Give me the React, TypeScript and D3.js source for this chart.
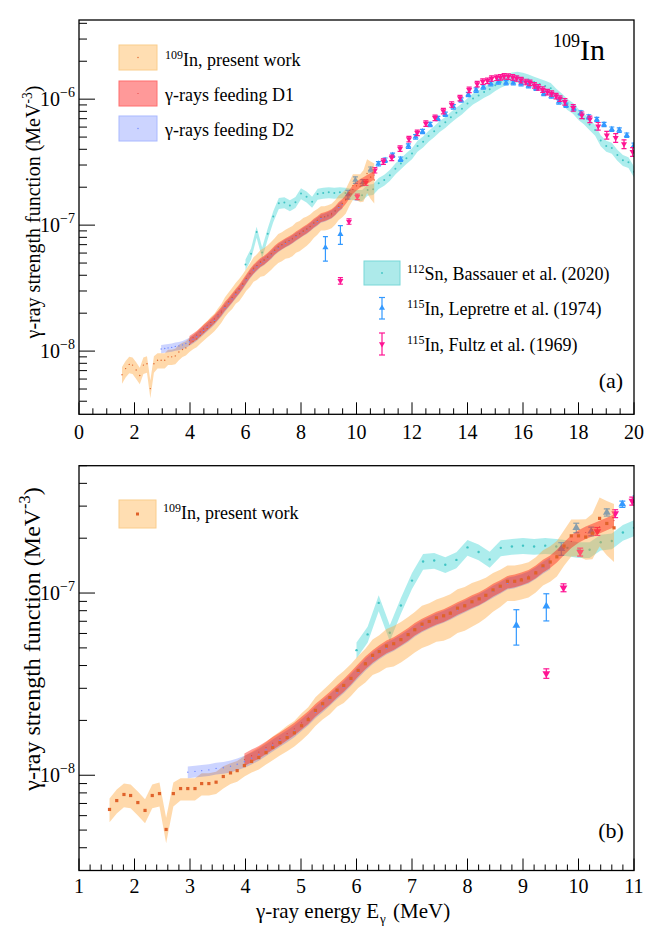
import React from "react";
import * as d3 from "d3";

const W = 657;
const H = 926;
const FONT = "'Liberation Serif', 'DejaVu Serif', serif";

// ---------------- DATA ----------------
// 109In, present work (values x1e-9 MeV^-3)
const pwEnergy = [1.55, 1.68, 1.81, 1.93, 2.06, 2.19, 2.32, 2.45, 2.57, 2.70, 2.83, 2.96, 3.09, 3.21, 3.34, 3.47, 3.60, 3.73, 3.85, 3.98, 4.11, 4.24, 4.37, 4.49, 4.62, 4.75, 4.88, 5.01, 5.13, 5.26, 5.39, 5.52, 5.65, 5.77, 5.90, 6.03, 6.16, 6.29, 6.41, 6.54, 6.67, 6.80, 6.93, 7.05, 7.18, 7.31, 7.44, 7.57, 7.69, 7.82, 7.95, 8.08, 8.21, 8.33, 8.46, 8.59, 8.72, 8.85, 8.97, 9.10, 9.23, 9.36, 9.49, 9.61, 9.74, 9.87, 10.00, 10.13, 10.25, 10.38, 10.51, 10.64];
const pwValue = [6.49, 7.26, 7.84, 7.74, 7.08, 6.41, 7.74, 7.93, 5.04, 7.93, 8.45, 8.45, 8.45, 9.0, 9.0, 9.16, 9.84, 10.3, 10.6, 11.3, 11.9, 12.5, 13.3, 14.2, 15.1, 16.1, 17.1, 18.7, 20.2, 22.7, 24.7, 26.7, 29.3, 31.1, 34.0, 37.6, 40.9, 45.5, 47.7, 51.2, 52.7, 55.5, 59.1, 62.9, 67.5, 69.8, 73.1, 75.0, 77.5, 82.6, 85.1, 89.5, 92.9, 97.2, 104, 109, 116, 116, 118, 121, 129, 141, 148, 158, 181, 206, 206, 203, 213, 257, 241, 228];
const pwRelErr = [0.15, 0.15, 0.15, 0.15, 0.15, 0.15, 0.15, 0.15, 0.16, 0.15, 0.14, 0.14, 0.14, 0.14, 0.14, 0.14, 0.14, 0.13, 0.13, 0.13, 0.13, 0.14, 0.14, 0.15, 0.15, 0.16, 0.16, 0.17, 0.17, 0.18, 0.18, 0.19, 0.19, 0.2, 0.2, 0.2, 0.21, 0.22, 0.23, 0.24, 0.25, 0.25, 0.25, 0.25, 0.26, 0.26, 0.26, 0.27, 0.27, 0.27, 0.27, 0.27, 0.26, 0.25, 0.24, 0.23, 0.22, 0.22, 0.22, 0.22, 0.22, 0.22, 0.22, 0.22, 0.22, 0.23, 0.23, 0.25, 0.28, 0.3, 0.33, 0.35];

// gamma rays feeding D1 (x1e-9)
const d1Energy = [3.98, 4.11, 4.24, 4.37, 4.49, 4.62, 4.75, 4.88, 5.01, 5.13, 5.26, 5.39, 5.52, 5.65, 5.77, 5.90, 6.03, 6.16, 6.29, 6.41, 6.54, 6.67, 6.80, 6.93, 7.05, 7.18, 7.31, 7.44, 7.57, 7.69, 7.82, 7.95, 8.08, 8.21, 8.33, 8.46, 8.59, 8.72, 8.85, 8.97, 9.10, 9.23, 9.36, 9.49, 9.61, 9.74, 9.87, 10.00, 10.13, 10.25, 10.38, 10.51, 10.64];
const d1Value = [12.2, 12.8, 13.4, 14.2, 15.0, 15.9, 16.9, 18.0, 19.4, 20.8, 22.8, 24.6, 26.6, 29.0, 31.2, 34.2, 37.8, 41.5, 45.0, 47.8, 50.8, 53.0, 56.0, 59.5, 63.5, 67.0, 70.0, 73.0, 75.5, 78.5, 82.5, 86.0, 90.0, 93.5, 98.0, 104, 109, 115, 117, 120, 124, 131, 141, 149, 160, 176, 192, 205, 215, 222, 231, 240, 250];
const d1RelErr = 0.08;

// gamma rays feeding D2 (x1e-9)
const d2Energy = [2.96, 3.09, 3.21, 3.34, 3.47, 3.60, 3.73, 3.85, 3.98, 4.11, 4.24, 4.37, 4.49, 4.62, 4.75, 4.88, 5.01, 5.13, 5.26, 5.39, 5.52, 5.65, 5.77, 5.90, 6.03, 6.16, 6.29, 6.41, 6.54, 6.67, 6.80, 6.93, 7.05, 7.18, 7.31, 7.44, 7.57, 7.69, 7.82, 7.95, 8.08, 8.21, 8.33, 8.46, 8.59, 8.72, 8.85, 8.97, 9.10, 9.23, 9.36, 9.49];
const d2Value = [10.4, 10.5, 10.6, 10.7, 10.9, 11.0, 11.2, 11.5, 11.9, 12.4, 13.0, 13.8, 14.6, 15.5, 16.4, 17.5, 18.9, 20.3, 22.2, 24.0, 26.0, 28.3, 30.5, 33.4, 36.8, 40.5, 44.0, 46.8, 49.8, 52.0, 55.0, 58.3, 62.2, 65.8, 68.8, 71.8, 74.3, 77.2, 81.0, 84.5, 88.5, 92.0, 96.5, 102, 107, 113, 115, 118, 122, 129, 138, 146];
const d2RelErr = 0.075;

// 112Sn, Bassauer et al. (2020) (x1e-7)
const bsEnergy = [6.0, 6.2, 6.4, 6.6, 6.8, 7.0, 7.2, 7.4, 7.6, 7.8, 8.0, 8.2, 8.4, 8.6, 8.8, 9.0, 9.2, 9.4, 9.6, 9.8, 10.0, 10.2, 10.4, 10.6, 10.8, 11.0, 11.2, 11.4, 11.6, 11.8, 12.0, 12.2, 12.4, 12.6, 12.8, 13.0, 13.2, 13.4, 13.6, 13.8, 14.0, 14.2, 14.4, 14.6, 14.8, 15.0, 15.2, 15.4, 15.6, 15.8, 16.0, 16.2, 16.4, 16.6, 16.8, 17.0, 17.2, 17.4, 17.6, 17.8, 18.0, 18.2, 18.4, 18.6, 18.8, 19.0, 19.2, 19.4, 19.6, 19.8, 20.0];
const bsValue = [0.486, 0.593, 0.883, 0.605, 0.855, 1.17, 1.49, 1.51, 1.43, 1.52, 1.78, 1.68, 1.53, 1.77, 1.80, 1.82, 1.80, 1.82, 1.80, 1.77, 1.73, 1.73, 1.90, 1.93, 2.15, 2.28, 2.49, 2.80, 3.09, 3.40, 3.71, 4.25, 4.60, 5.10, 5.55, 6.10, 6.55, 7.20, 7.80, 8.40, 9.25, 10.1, 10.7, 11.4, 12.0, 12.9, 13.7, 14.3, 14.8, 15.0, 14.7, 14.3, 13.7, 13.2, 12.7, 12.2, 11.0, 10.1, 9.10, 8.50, 7.60, 7.00, 6.30, 5.68, 4.70, 4.25, 4.10, 3.60, 3.28, 3.15, 2.65];
const bsRelErr = 0.1;

// 115In, Lepretre et al. (1974) (x1e-7)
const lpEnergy = [8.88, 9.42, 9.69, 9.96, 10.23, 10.51, 10.79, 11.03, 11.30, 11.59, 11.87, 12.13, 12.38, 12.65, 12.93, 13.20, 13.49, 13.77, 14.03, 14.31, 14.57, 14.84, 15.11, 15.39, 15.65, 15.93, 16.20, 16.47, 16.75, 17.02, 17.29, 17.55, 17.83, 18.09, 18.37, 18.66, 18.92, 19.20, 19.47, 19.74, 20.00];
const lpValue = [0.664, 0.847, 1.75, 2.28, 2.18, 2.77, 3.07, 3.28, 3.59, 3.34, 4.24, 5.02, 5.54, 6.30, 7.03, 7.60, 8.69, 9.85, 10.9, 11.8, 12.5, 13.3, 13.7, 13.5, 13.5, 13.3, 12.8, 12.2, 11.1, 10.6, 9.53, 8.96, 8.43, 7.78, 7.23, 6.90, 6.30, 5.78, 5.68, 5.18, 4.31];
const lpRelErr = [0.22, 0.17, 0.08, 0.06, 0.055, 0.045, 0.04, 0.04, 0.04, 0.04, 0.04, 0.04, 0.04, 0.04, 0.04, 0.04, 0.04, 0.04, 0.04, 0.04, 0.04, 0.04, 0.04, 0.04, 0.04, 0.04, 0.04, 0.04, 0.04, 0.04, 0.04, 0.04, 0.04, 0.04, 0.04, 0.04, 0.04, 0.04, 0.04, 0.04, 0.04];

// 115In, Fultz et al. (1969) (x1e-7)
const fzEnergy = [9.42, 9.73, 10.03, 10.34, 10.66, 10.97, 11.27, 11.57, 11.89, 12.19, 12.50, 12.83, 13.13, 13.43, 13.73, 14.06, 14.35, 14.55, 14.72, 14.87, 15.05, 15.19, 15.32, 15.47, 15.63, 15.77, 15.93, 16.10, 16.25, 16.41, 16.55, 16.71, 16.88, 17.03, 17.19, 17.33, 17.51, 17.81, 18.12, 18.41, 18.71, 19.02, 19.34, 19.64, 19.95];
const fzValue = [0.362, 1.07, 1.68, 2.18, 2.73, 3.20, 3.42, 4.06, 4.82, 5.41, 6.41, 7.11, 8.04, 9.08, 10.2, 11.85, 13.2, 13.8, 14.0, 14.6, 14.8, 14.9, 15.2, 15.1, 14.9, 14.6, 14.2, 13.7, 13.5, 12.9, 12.4, 11.9, 11.4, 11.1, 10.6, 10.1, 9.53, 8.53, 7.46, 6.93, 6.10, 5.18, 4.93, 4.40, 3.82];
const fzRelErr = [0.06, 0.05, 0.05, 0.05, 0.05, 0.05, 0.05, 0.05, 0.05, 0.05, 0.05, 0.05, 0.05, 0.05, 0.05, 0.05, 0.05, 0.05, 0.05, 0.05, 0.05, 0.05, 0.05, 0.05, 0.05, 0.05, 0.05, 0.05, 0.05, 0.05, 0.05, 0.05, 0.05, 0.05, 0.05, 0.05, 0.06, 0.06, 0.06, 0.06, 0.07, 0.07, 0.08, 0.08, 0.08];

// ---------------- STYLE ----------------
const C_PW_FILL = "rgba(255,165,55,0.42)";
const C_PW_MARK = "#e0622a";
const C_D1_FILL = "rgba(255,20,10,0.42)";
const C_D1_MARK = "#e04040";
const C_D2_FILL = "rgba(0,40,255,0.2)";
const C_D2_MARK = "#6f86ff";
const C_BS_FILL = "rgba(0,200,200,0.32)";
const C_BS_MARK = "#40c4c4";
const C_LP = "#3399ff";
const C_FZ = "#ff1493";

type Row = { e: number; v: number; lo: number; hi: number };
function band(E: number[], V: number[], unit: number, err: number | number[]): Row[] {
  return E.map((e, i) => {
    const v = V[i] * unit;
    const r = Array.isArray(err) ? err[i] : err;
    return { e, v, lo: v * (1 - r), hi: v * (1 + r) };
  });
}

const pwRows = band(pwEnergy, pwValue, 1e-9, pwRelErr);
const d1Rows = band(d1Energy, d1Value, 1e-9, d1RelErr);
const d2Rows = band(d2Energy, d2Value, 1e-9, d2RelErr);
const bsRows = band(bsEnergy, bsValue, 1e-7, bsRelErr);
const lpRows = band(lpEnergy, lpValue, 1e-7, lpRelErr);
const fzRows = band(fzEnergy, fzValue, 1e-7, fzRelErr);

type PanelProps = {
  id: string;
  left: number; right: number; top: number; bottom: number;
  xDom: [number, number]; yDom: [number, number];
  xMajor: number; xMinor: number;
  big: boolean;
  yTitleSize: number; yTitleCenter: number;
  xLabelOffset: number;
};

function Panel(p: PanelProps) {
  const xs = d3.scaleLinear().domain(p.xDom).range([p.left, p.right]);
  const ys = d3.scaleLog().domain(p.yDom).range([p.bottom, p.top]);
  const area = d3.area<Row>().x((d) => xs(d.e)).y0((d) => ys(d.lo)).y1((d) => ys(d.hi));
  const bsArea = area(bsRows) || "";
  const pwArea = area(pwRows) || "";
  const d1Area = area(d1Rows) || "";
  const d2Area = area(d2Rows) || "";
  const triSize = p.big ? 26 : 16;
  const triUp = d3.symbol(d3.symbolTriangle, triSize)() || "";
  const cap = p.big ? 3 : 2.5;

  const xTicks: { v: number; major: boolean }[] = [];
  const nMinor = Math.round((p.xDom[1] - p.xDom[0]) / p.xMinor);
  for (let i = 0; i <= nMinor; i++) {
    const v = p.xDom[0] + i * p.xMinor;
    const r = (v - p.xDom[0]) / p.xMajor;
    xTicks.push({ v, major: Math.abs(r - Math.round(r)) < 1e-6 });
  }
  const yTicks: { v: number; major: boolean; k: number }[] = [];
  for (let k = Math.floor(Math.log10(p.yDom[0])); k <= Math.ceil(Math.log10(p.yDom[1])); k++) {
    for (let m = 1; m <= 9; m++) {
      const v = m * Math.pow(10, k);
      if (v >= p.yDom[0] * 0.999 && v <= p.yDom[1] * 1.001) yTicks.push({ v, major: m === 1, k });
    }
  }
  const clip = `clip-${p.id}`;

  return (
    <g>
      <defs>
        <clipPath id={clip}>
          <rect x={p.left} y={p.top} width={p.right - p.left} height={p.bottom - p.top} />
        </clipPath>
      </defs>
      <g clipPath={`url(#${clip})`}>
        <path d={bsArea} fill={C_BS_FILL} stroke="none" />
        {bsRows.map((d, i) => (
          <circle key={`bs${i}`} cx={xs(d.e)} cy={ys(d.v)} r={p.big ? 1.2 : 1} fill={C_BS_MARK} />
        ))}
        {lpRows.map((d, i) => (
          <g key={`lp${i}`} stroke={C_LP} strokeWidth={1.2}>
            <line x1={xs(d.e)} x2={xs(d.e)} y1={ys(d.lo)} y2={ys(d.hi)} />
            <line x1={xs(d.e) - cap} x2={xs(d.e) + cap} y1={ys(d.lo)} y2={ys(d.lo)} />
            <line x1={xs(d.e) - cap} x2={xs(d.e) + cap} y1={ys(d.hi)} y2={ys(d.hi)} />
            <path d={triUp} transform={`translate(${xs(d.e)},${ys(d.v)})`} fill={C_LP} stroke="none" />
          </g>
        ))}
        {fzRows.map((d, i) => (
          <g key={`fz${i}`} stroke={C_FZ} strokeWidth={1.2}>
            <line x1={xs(d.e)} x2={xs(d.e)} y1={ys(d.lo)} y2={ys(d.hi)} />
            <line x1={xs(d.e) - cap} x2={xs(d.e) + cap} y1={ys(d.lo)} y2={ys(d.lo)} />
            <line x1={xs(d.e) - cap} x2={xs(d.e) + cap} y1={ys(d.hi)} y2={ys(d.hi)} />
            <path d={triUp} transform={`translate(${xs(d.e)},${ys(d.v)}) rotate(180)`} fill={C_FZ} stroke="none" />
          </g>
        ))}
        <path d={pwArea} fill={C_PW_FILL} stroke="none" />
        <path d={d2Area} fill={C_D2_FILL} stroke="none" />
        <path d={d1Area} fill={C_D1_FILL} stroke="none" />
        {d2Rows.map((d, i) => (
          <circle key={`d2${i}`} cx={xs(d.e)} cy={ys(d.v)} r={0.7} fill={C_D2_MARK} />
        ))}
        {d1Rows.map((d, i) => (
          <circle key={`d1${i}`} cx={xs(d.e)} cy={ys(d.v)} r={0.6} fill={C_D1_MARK} />
        ))}
        {pwRows.map((d, i) =>
          p.big ? (
            <rect key={`pw${i}`} x={xs(d.e) - 1.6} y={ys(d.v) - 1.6} width={3.2} height={3.2} fill={C_PW_MARK} />
          ) : (
            <circle key={`pw${i}`} cx={xs(d.e)} cy={ys(d.v)} r={0.7} fill={C_PW_MARK} />
          )
        )}
      </g>
      <rect x={p.left} y={p.top} width={p.right - p.left} height={p.bottom - p.top} fill="none" stroke="#000" strokeWidth={1.3} />
      {xTicks.map((t, i) => (
        <line key={`xt${i}`} x1={xs(t.v)} x2={xs(t.v)} y1={p.bottom} y2={p.bottom - (t.major ? 12 : 6)} stroke="#000" strokeWidth={1} />
      ))}
      {xTicks.filter((t) => t.major).map((t, i) => (
        <text key={`xl${i}`} x={xs(t.v)} y={p.bottom + p.xLabelOffset} textAnchor="middle" fontFamily={FONT} fontSize={20} fill="#000">
          {d3.format("d")(t.v)}
        </text>
      ))}
      {yTicks.map((t, i) => (
        <line key={`yt${i}`} x1={p.left} x2={p.left + (t.major ? 16 : 8)} y1={ys(t.v)} y2={ys(t.v)} stroke="#000" strokeWidth={1} />
      ))}
      {yTicks.filter((t) => t.major).map((t, i) => (
        <text key={`yl${i}`} x={p.left - 4} y={ys(t.v) + 7} textAnchor="end" fontFamily={FONT} fontSize={20} fill="#000">
          10
          <tspan dy={-9} fontSize={14}>{`\u2212${Math.abs(t.k)}`}</tspan>
        </text>
      ))}
      <text
        transform={`translate(40,${p.yTitleCenter}) rotate(-90)`}
        textAnchor="middle"
        fontFamily={FONT}
        fontSize={p.yTitleSize}
        fill="#000"
      >
        {"γ-ray strength function (MeV"}
        <tspan dy={-p.yTitleSize * 0.42} fontSize={p.yTitleSize * 0.68}>-3</tspan>
        <tspan dy={p.yTitleSize * 0.42}>)</tspan>
      </text>
    </g>
  );
}

function LegendBox({ x, y, w, h, fill, stroke, dot }: { x: number; y: number; w: number; h: number; fill: string; stroke: string; dot: React.ReactNode }) {
  return (
    <g>
      <rect x={x} y={y} width={w} height={h} fill={fill} stroke={stroke} strokeWidth={1} />
      {dot}
    </g>
  );
}

export default function App() {
  const legFont = 18;
  return (
    <svg width={W} height={H} viewBox={`0 0 ${W} ${H}`} style={{ position: "absolute", left: 0, top: 0, background: "#fff" }}>
      <rect x={0} y={0} width={W} height={H} fill="#fff" />
      <Panel
        id="a" left={79} right={634} top={20} bottom={414.3}
        xDom={[0, 20]} yDom={[3.15e-9, 4.25e-6]}
        xMajor={2} xMinor={0.5} big={false}
        yTitleSize={20} yTitleCenter={212} xLabelOffset={25}
      />
      <Panel
        id="b" left={79} right={634} top={465.7} bottom={870.5}
        xDom={[1, 11]} yDom={[3e-9, 5e-7]}
        xMajor={1} xMinor={0.2} big={true}
        yTitleSize={24} yTitleCenter={639} xLabelOffset={22}
      />

      <text x={553} y={60} fontFamily={FONT} fontSize={30} fill="#000">
        <tspan fontSize={18} dy={-13}>109</tspan>
        <tspan dy={13}>In</tspan>
      </text>
      <text x={611} y={388} textAnchor="middle" fontFamily={FONT} fontSize={22} fill="#000">(a)</text>
      <text x={611} y={838} textAnchor="middle" fontFamily={FONT} fontSize={22} fill="#000">(b)</text>

      <LegendBox x={119} y={45} w={38} h={25} fill="rgb(255,222,178)" stroke="rgb(250,205,140)" dot={<circle cx={138} cy={57.5} r={0.7} fill={C_PW_MARK} />} />
      <text x={165} y={66} fontFamily={FONT} fontSize={legFont}>
        <tspan fontSize={12} dy={-7}>109</tspan>
        <tspan dy={7}>In, present work</tspan>
      </text>
      <LegendBox x={119} y={81} w={38} h={25} fill="rgb(255,153,153)" stroke="rgb(255,110,110)" dot={<circle cx={138} cy={93.5} r={0.6} fill={C_D1_MARK} />} />
      <text x={165} y={101} fontFamily={FONT} fontSize={legFont}>γ-rays feeding D1</text>
      <LegendBox x={119} y={116} w={38} h={25} fill="rgb(204,212,255)" stroke="rgb(170,185,255)" dot={<circle cx={138} cy={128.5} r={0.7} fill={C_D2_MARK} />} />
      <text x={165} y={136} fontFamily={FONT} fontSize={legFont}>γ-rays feeding D2</text>

      <LegendBox x={364} y={261} w={36} h={24} fill="rgb(173,234,234)" stroke="rgb(120,215,215)" dot={<circle cx={382} cy={273} r={0.9} fill={C_BS_MARK} />} />
      <text x={407} y={280} fontFamily={FONT} fontSize={legFont}>
        <tspan fontSize={12} dy={-7}>112</tspan>
        <tspan dy={7}>Sn, Bassauer et al. (2020)</tspan>
      </text>
      <g stroke={C_LP} strokeWidth={1.2}>
        <line x1={382} x2={382} y1={297.5} y2={319} />
        <line x1={379} x2={385} y1={297.5} y2={297.5} />
        <line x1={379} x2={385} y1={319} y2={319} />
        <path d={d3.symbol(d3.symbolTriangle, 16)() || ""} transform="translate(382,308)" fill={C_LP} stroke="none" />
      </g>
      <text x={407} y={315} fontFamily={FONT} fontSize={legFont}>
        <tspan fontSize={12} dy={-7}>115</tspan>
        <tspan dy={7}>In, Lepretre et al. (1974)</tspan>
      </text>
      <g stroke={C_FZ} strokeWidth={1.2}>
        <line x1={382} x2={382} y1={333} y2={355} />
        <line x1={379} x2={385} y1={333} y2={333} />
        <line x1={379} x2={385} y1={355} y2={355} />
        <path d={d3.symbol(d3.symbolTriangle, 16)() || ""} transform="translate(382,344) rotate(180)" fill={C_FZ} stroke="none" />
      </g>
      <text x={407} y={350.5} fontFamily={FONT} fontSize={legFont}>
        <tspan fontSize={12} dy={-7}>115</tspan>
        <tspan dy={7}>In, Fultz et al. (1969)</tspan>
      </text>

      <LegendBox x={119} y={500} w={37} h={28} fill="rgb(255,222,178)" stroke="rgb(250,205,140)" dot={<rect x={136} y={512.5} width={3} height={3} fill={C_PW_MARK} />} />
      <text x={163} y={519} fontFamily={FONT} fontSize={legFont}>
        <tspan fontSize={12} dy={-7}>109</tspan>
        <tspan dy={7}>In, present work</tspan>
      </text>

      <text x={256} y={918} fontFamily={FONT} fontSize={21}>γ-ray energy E</text>
      <text x={380} y={923} fontFamily={FONT} fontSize={13}>γ</text>
      <text x={393} y={918} fontFamily={FONT} fontSize={21}>(MeV)</text>
    </svg>
  );
}
